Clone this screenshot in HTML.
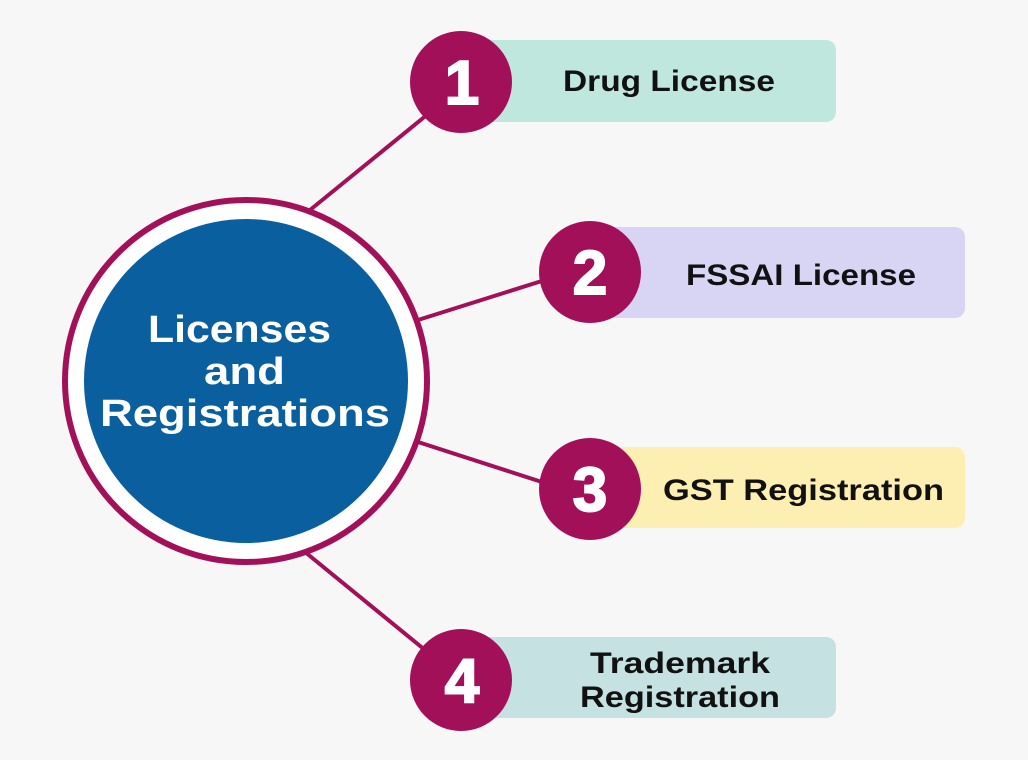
<!DOCTYPE html>
<html><head><meta charset="utf-8"><style>
html,body{margin:0;padding:0;background:#f7f7f7;}
svg{display:block}
text{font-family:"Liberation Sans",sans-serif;font-weight:bold;}
</style></head><body>
<svg width="1028" height="760" viewBox="0 0 1028 760" xmlns="http://www.w3.org/2000/svg">
<rect width="1028" height="760" fill="#f7f7f7"/>
<g stroke="#a3105a" stroke-width="4">
<line x1="310" y1="210" x2="428" y2="114"/>
<line x1="418" y1="320" x2="545" y2="280"/>
<line x1="418" y1="442" x2="545" y2="483"/>
<line x1="305" y1="552" x2="425" y2="650"/>
</g>
<rect x="470" y="40" width="366" height="82" rx="10" fill="#c0e7dd"/>
<rect x="600" y="227" width="365" height="91" rx="10" fill="#d8d5f4"/>
<rect x="600" y="447" width="365" height="81" rx="10" fill="#fdefb2"/>
<rect x="470" y="637" width="366" height="81" rx="10" fill="#c6e1e1"/>
<circle cx="246" cy="381" r="181" fill="#fff" stroke="#a3105a" stroke-width="6"/>
<circle cx="246" cy="381" r="162" fill="#0a5f9f"/>
<g fill="#a3105a">
<circle cx="461" cy="82" r="51"/>
<circle cx="590" cy="272" r="51"/>
<circle cx="590" cy="489" r="51"/>
<circle cx="461" cy="680" r="51"/>
</g>
<g fill="#fff" font-size="62" text-anchor="middle" stroke="#fff" stroke-width="2">
<text x="462" y="104">1</text>
<text x="590" y="294">2</text>
<text x="590" y="511">3</text>
<text x="462" y="702">4</text>
</g>
<g fill="#fff" font-size="38">
<text x="148" y="342" textLength="183" lengthAdjust="spacingAndGlyphs">Licenses</text>
<text x="204" y="384" textLength="81" lengthAdjust="spacingAndGlyphs">and</text>
<text x="100" y="426" textLength="290" lengthAdjust="spacingAndGlyphs">Registrations</text>
</g>
<g fill="#111" font-size="30">
<text x="563" y="91" textLength="212" lengthAdjust="spacingAndGlyphs">Drug License</text>
<text x="686" y="285" textLength="230" lengthAdjust="spacingAndGlyphs">FSSAI License</text>
<text x="663" y="500" textLength="281" lengthAdjust="spacingAndGlyphs">GST Registration</text>
<text x="590" y="673" textLength="180" lengthAdjust="spacingAndGlyphs">Trademark</text>
<text x="580" y="707" textLength="200" lengthAdjust="spacingAndGlyphs">Registration</text>
</g>
</svg>
</body></html>
